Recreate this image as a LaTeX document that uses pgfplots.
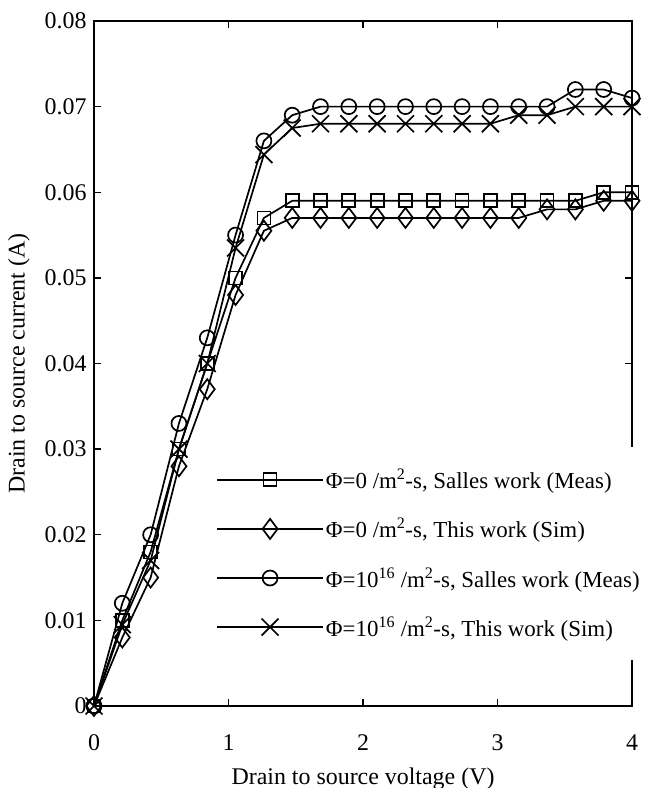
\documentclass[border=0pt]{standalone}
\usepackage{fontspec}
\setmainfont{Liberation Serif}
\usepackage{pgfplots}
\pgfplotsset{compat=1.18}

\pgfplotstableread{
x      sq     di     ci     cr
0.0000 0.000  0.000  0.000  0.000
0.2105 0.010  0.008  0.012  0.0095
0.4211 0.018  0.015  0.020  0.017
0.6316 0.030  0.028  0.033  0.030
0.8421 0.040  0.037  0.043  0.040
1.0526 0.050  0.048  0.055  0.0535
1.2632 0.057  0.0555 0.066  0.0644
1.4737 0.059  0.057  0.069  0.0675
1.6842 0.059  0.057  0.070  0.068
1.8947 0.059  0.057  0.070  0.068
2.1053 0.059  0.057  0.070  0.068
2.3158 0.059  0.057  0.070  0.068
2.5263 0.059  0.057  0.070  0.068
2.7368 0.059  0.057  0.070  0.068
2.9474 0.059  0.057  0.070  0.068
3.1579 0.059  0.057  0.070  0.069
3.3684 0.059  0.058  0.070  0.069
3.5789 0.059  0.058  0.072  0.070
3.7895 0.060  0.059  0.072  0.070
4.0000 0.060  0.059  0.071  0.070
}\ivdata

\begin{document}
\begin{tikzpicture}
\useasboundingbox (-94bp,-82bp) rectangle (554bp,706bp);
\begin{axis}[
    scale only axis,
    width=538bp, height=685bp,
    xmin=0, xmax=4, ymin=0, ymax=0.08,
    xtick={0,1,2,3,4},
    ytick={0,0.01,0.02,0.03,0.04,0.05,0.06,0.07,0.08},
    scaled y ticks=false,
    yticklabel style={/pgf/number format/fixed, /pgf/number format/precision=2},
    /pgf/number format/assume math mode=true,
    tick align=inside,
    major tick length=7bp,
    tick style={line width=1.4bp, black},
    axis line style={line width=1.8bp},
    tick label style={font=\fontsize{24}{27}\selectfont},
    label style={font=\fontsize{24}{27}\selectfont},
    xticklabel style={yshift=-25bp},
    yticklabel style={xshift=-4bp},
    xlabel={Drain to source voltage (V)},
    ylabel={Drain to source current (A)},
    xlabel style={yshift=-10bp},
    ylabel style={yshift=8bp},
    every axis plot/.append style={black, line width=1.7bp, mark options={solid, line width=1.7bp}},
    legend cell align=left,
    legend style={at={(0.2268,0.378)}, anchor=north west, draw=none, fill=white,
        font=\fontsize{23}{26}\selectfont, inner xsep=0pt, inner ysep=20bp,
        row sep=24bp},
    legend image code/.code={\draw[mark repeat=2, mark phase=2] plot coordinates {(0bp,0bp) (53bp,0bp) (106bp,0bp)};},
]
\addplot[mark=square, mark size=6.5bp] table[x=x, y=sq] {\ivdata};
\addlegendentry{Φ=0 /m\textsuperscript{2}-s, Salles work (Meas)}
\addplot[mark=diamond, mark size=10bp] table[x=x, y=di] {\ivdata};
\addlegendentry{Φ=0 /m\textsuperscript{2}-s, This work (Sim)}
\addplot[mark=o, mark size=7.5bp] table[x=x, y=ci] {\ivdata};
\addlegendentry{Φ=10\textsuperscript{16} /m\textsuperscript{2}-s, Salles work (Meas)}
\addplot[mark=x, mark size=12bp] table[x=x, y=cr] {\ivdata};
\addlegendentry{Φ=10\textsuperscript{16} /m\textsuperscript{2}-s, This work (Sim)}
\end{axis}
\end{tikzpicture}
\end{document}
